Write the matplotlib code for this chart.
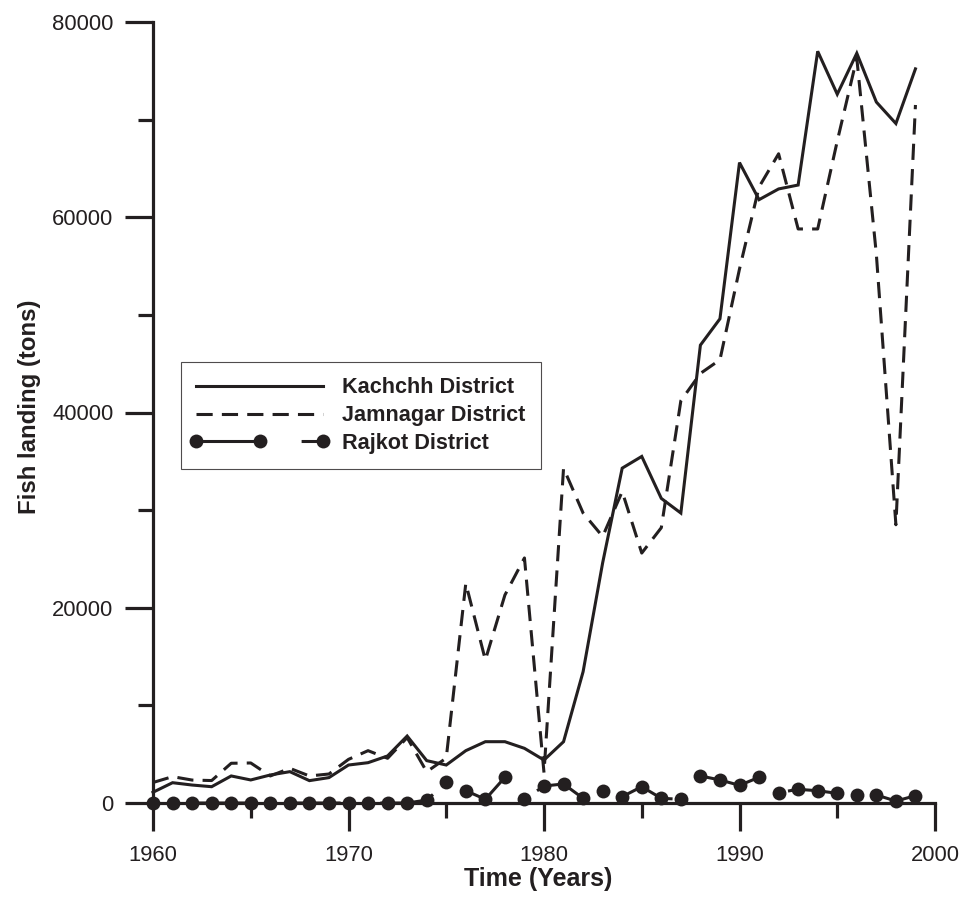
import matplotlib
matplotlib.use("Agg")
import matplotlib.pyplot as plt
from matplotlib.ticker import MultipleLocator
from matplotlib.legend_handler import HandlerLine2D
from matplotlib.lines import Line2D

years = list(range(1960, 2000))

kachchh = [1100, 2080, 1840, 1670, 2770, 2360, 2870, 3210, 2290, 2600,
           3890, 4130, 4820, 6860, 4340, 3890, 5360, 6280, 6280, 5600,
           4400, 6280, 13450, 24600, 34300, 35500, 31200, 29700, 46900, 49600,
           65600, 61800, 62900, 63300, 77000, 72600, 76800, 71800, 69600, 75200]

jamnagar = [2100, 2700, 2350, 2300, 4070, 4100, 2770, 3550, 2770, 2970,
            4470, 5360, 4580, 6700, 3200, 4600, 22500, 14650, 21300, 25100,
            3100, 34300, 29700, 27300, 31900, 25600, 28200, 41200, 44000, 45400,
            54700, 63100, 66500, 58800, 58800, 67800, 76300, 56200, 28500, 71500]

rajkot = [0, 0, 0, 0, 0, 0, 0, 0, 0, 0,
          0, 0, 0, 0, 300, 2100, 1260, 380, 2630, 380,
          1740, 1950, 480, 1260, 650, 1670, 480, 380, 2770, 2360,
          1810, 2630, 1060, 1400, 1260, 990, 820, 820, 200, 750]

labels = ["Kachchh District", "Jamnagar District", "Rajkot District"]

ink = "#231f20"
plt.rcParams['font.family'] = ['Liberation Sans', 'DejaVu Sans']

fig = plt.figure(figsize=(9.62, 9.0), dpi=100)
ax = fig.add_axes([153/962, 97/900, 782/962, 781/900])

lw = 2.2
ax.plot(years, kachchh, color=ink, lw=lw, solid_joinstyle='miter',
        label=labels[0], clip_on=False, zorder=3)
ax.plot(years, jamnagar, color=ink, lw=lw, linestyle=(0, (5.3, 3.0)),
        label=labels[1], clip_on=False, zorder=3)
ax.plot(years, rajkot, color=ink, lw=lw, linestyle=(18.6, (18, 13)),
        marker='o', markersize=10, markeredgewidth=0,
        label=labels[2], clip_on=False, zorder=4)

ax.set_xlim(1960, 2000)
ax.set_ylim(0, 80000)

for s in ['top', 'right']:
    ax.spines[s].set_visible(False)
for s in ['left', 'bottom']:
    ax.spines[s].set_linewidth(2.3)
    ax.spines[s].set_color(ink)

ax.xaxis.set_major_locator(MultipleLocator(10))
ax.xaxis.set_minor_locator(MultipleLocator(5))
ax.yaxis.set_major_locator(MultipleLocator(20000))
ax.yaxis.set_minor_locator(MultipleLocator(10000))

ax.tick_params(axis='both', which='major', direction='out', length=20,
               width=2.3, color=ink, labelsize=15.8, labelcolor=ink)
ax.tick_params(axis='both', which='minor', direction='out', length=10.8,
               width=2.3, color=ink)
ax.tick_params(axis='x', which='major', pad=10.5)
ax.tick_params(axis='y', which='major', pad=8.5)

ax.set_xlabel("Time (Years)", fontsize=18, fontweight='bold', color=ink)
ax.xaxis.set_label_coords(0.4923, -0.082)
ax.set_ylabel("Fish landing (tons)", fontsize=17.3, fontweight='bold', color=ink)
ax.yaxis.set_label_coords(-0.1433, 0.5077)

leg = ax.legend(loc='upper left', bbox_to_anchor=(28/782, 441/781),
                borderaxespad=0, fancybox=False, frameon=True,
                prop={'weight': 'bold', 'size': 15.6},
                handlelength=5.86, handletextpad=0.88, numpoints=3,
                labelspacing=0.32, borderpad=0.7,
                handler_map={Line2D: HandlerLine2D(marker_pad=0)})
leg.get_frame().set_edgecolor(ink)
leg.get_frame().set_linewidth(0.8)
for t in leg.get_texts():
    t.set_color(ink)
leg.legend_handles[2].set_linestyle((0, (21, 13.4)))

fig.savefig("out.png", dpi=100)
